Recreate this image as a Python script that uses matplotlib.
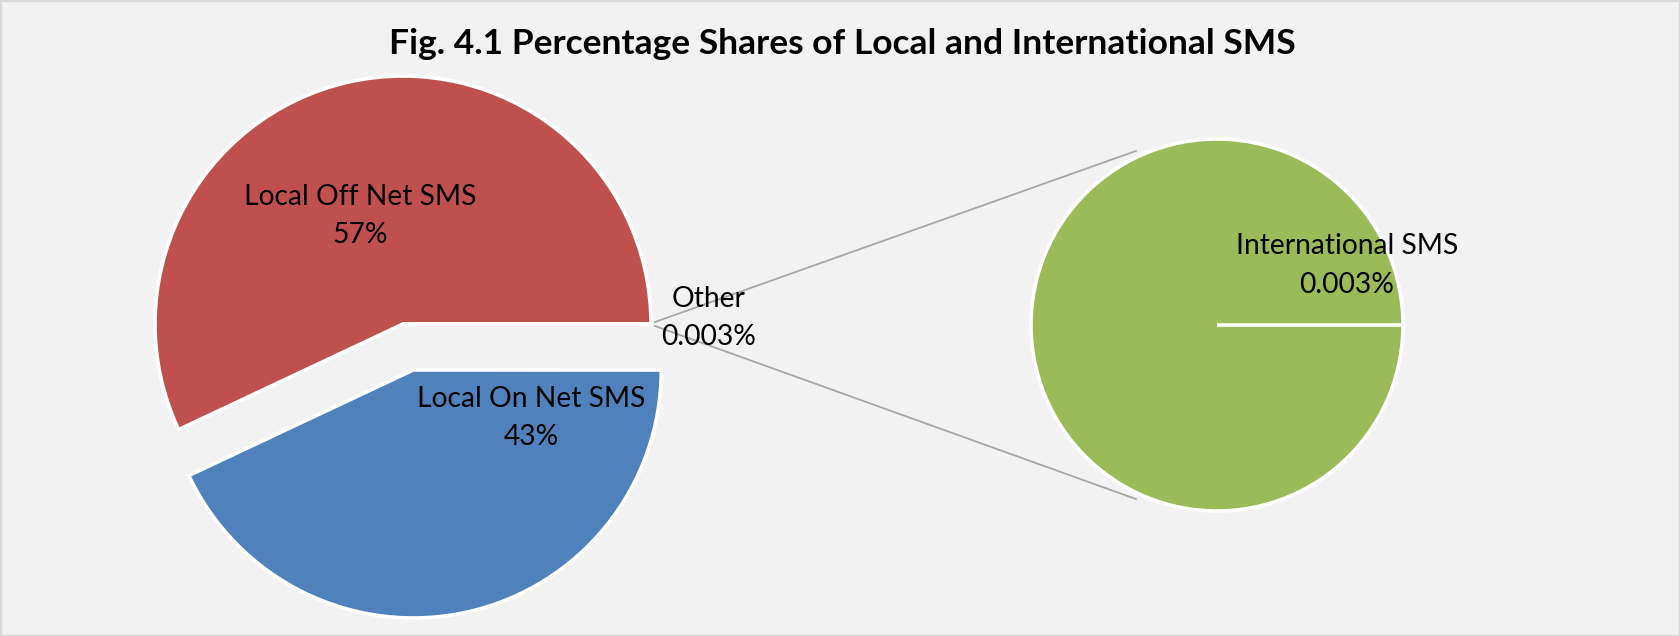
import math
import matplotlib
matplotlib.use("Agg")
import matplotlib.pyplot as plt
from matplotlib.patches import Rectangle

# ---------------- data ----------------
title = "Fig. 4.1 Percentage Shares of Local and International SMS"
categories = ["Local Off Net SMS", "Local On Net SMS", "Other"]
shares = [57.0, 43.0, 0.003]
share_labels = ["57%", "43%", "0.003%"]
sub_categories = ["International SMS"]
sub_shares = [0.003]
sub_share_labels = ["0.003%"]

# ---------------- style ----------------
W, H = 1680, 636
BG = "#F2F2F2"
colors = ["#C0504D", "#4F81BD", "#9BBB59"]
sub_colors = ["#9BBB59"]
FONT = "Lato"
LABEL_FS = 20.3
TITLE_FS = 25.5

fig = plt.figure(figsize=(W / 100, H / 100), dpi=100, facecolor=BG)
ax = fig.add_axes([0, 0, 1, 1])
ax.set_facecolor(BG)

def Y(y):
    return H - y

# main pie (explode is in data units = pixels here)
cx, cy, r = 403, Y(324), 248
ax.pie(shares, center=(cx, cy), radius=r, startangle=0, counterclock=True,
       explode=[0, 0.19 * r, 0], colors=colors,
       wedgeprops=dict(edgecolor="white", linewidth=2.6))

# secondary pie
gx, gy, gr = 1217, Y(325), 186
ax.pie(sub_shares, center=(gx, gy), radius=gr, startangle=0, colors=sub_colors,
       wedgeprops=dict(edgecolor="white", linewidth=2.6))
ax.plot([gx, gx + gr], [gy, gy], color="white", lw=2.6, solid_capstyle="butt", zorder=5)

# connector lines
ang = math.radians(115)
for sgn in (1, -1):
    x0, y0 = cx + r + 4, cy + sgn * 2
    x1 = gx + (gr + 6) * math.cos(ang)
    y1 = gy + sgn * (gr + 6) * math.sin(ang)
    ax.plot([x0, x1], [y0, y1], color="#A6A6A6", lw=1.3, zorder=1)

ax.set_xlim(0, W)
ax.set_ylim(0, H)
ax.set_aspect("equal")
ax.axis("off")

# labels
label_pos = [(360, 205), (531, 407), (709, 307)]
for name, pct, (x, y) in zip(categories, share_labels, label_pos):
    ax.text(x, Y(y), name, ha="center", va="baseline", fontsize=LABEL_FS,
            family=FONT, color="black", zorder=6)
    ax.text(x, Y(y + 38), pct, ha="center", va="baseline", fontsize=LABEL_FS,
            family=FONT, color="black", zorder=6)

for name, pct, (x, y) in zip(sub_categories, sub_share_labels, [(1347, 254)]):
    ax.text(x, Y(y), name, ha="center", va="baseline", fontsize=LABEL_FS,
            family=FONT, color="black", zorder=6)
    ax.text(x, Y(y + 39), pct, ha="center", va="baseline", fontsize=LABEL_FS,
            family=FONT, color="black", zorder=6)

ax.text(842, Y(54), title, ha="center", va="baseline", fontsize=TITLE_FS,
        family=FONT, fontweight="bold", color="black")

fig.add_artist(Rectangle((0, 0), 1, 1, transform=fig.transFigure, fill=False,
                         edgecolor="#D9D9D9", lw=2.5))

fig.savefig("out.png", dpi=100, facecolor=BG)
